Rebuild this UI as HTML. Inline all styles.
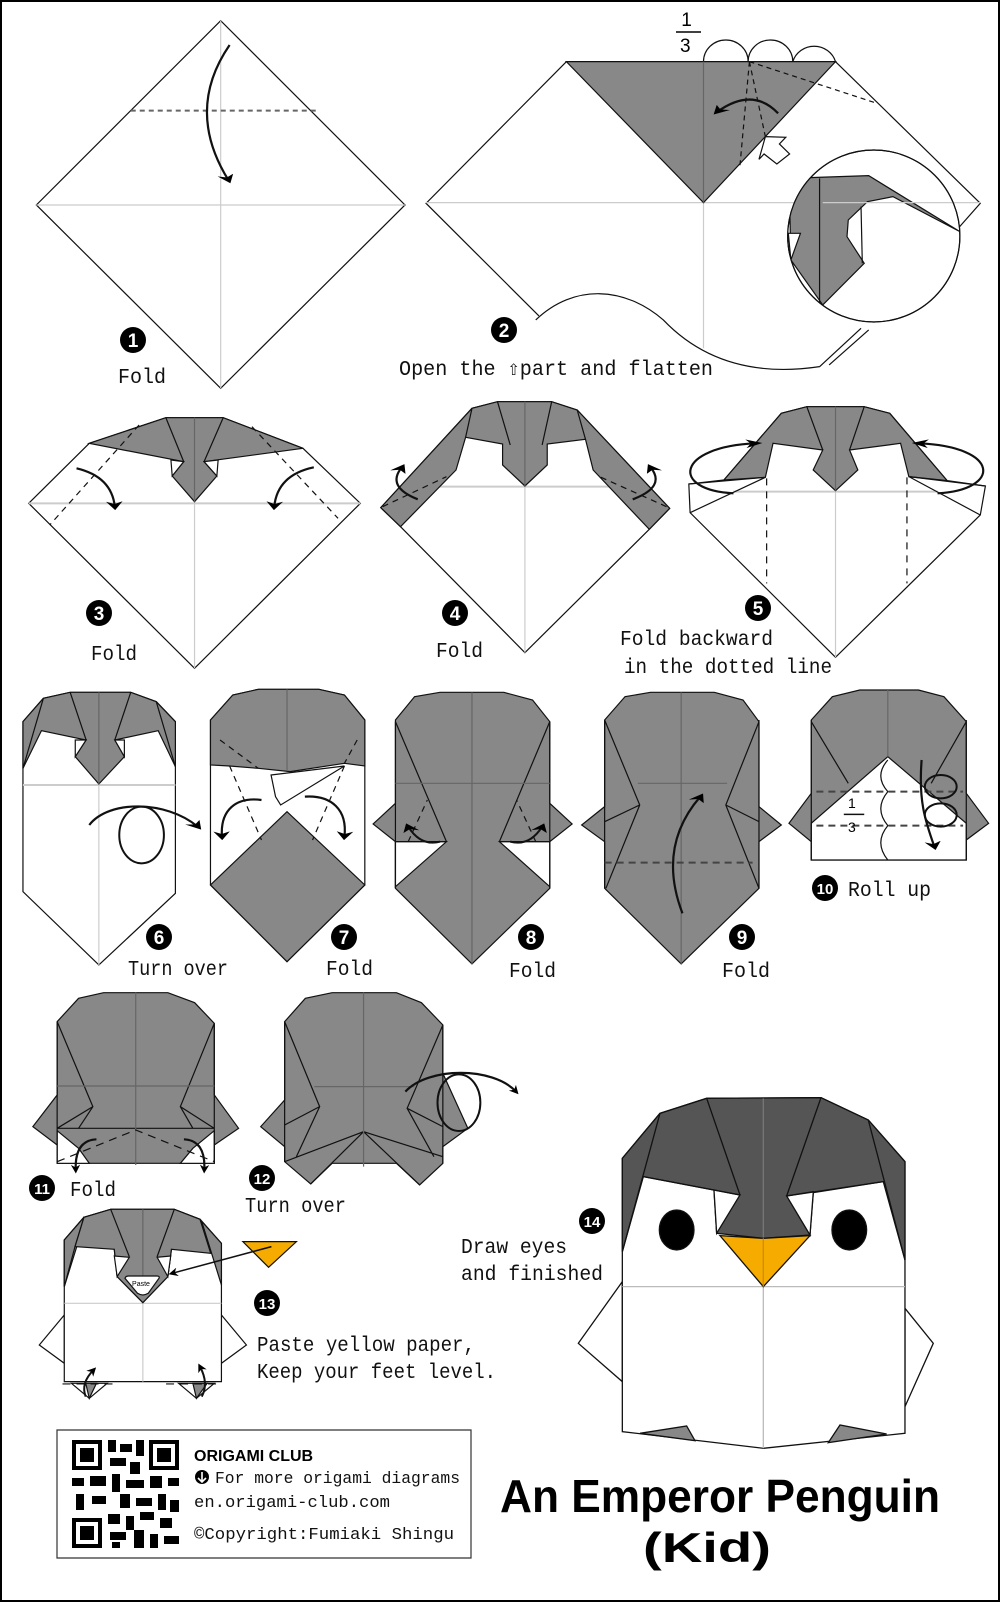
<!DOCTYPE html>
<html><head><meta charset="utf-8"><style>
html,body{margin:0;padding:0;background:#fff}
svg{display:block}
svg *{vector-effect:non-scaling-stroke}
.t{font-family:"Liberation Mono",monospace;font-size:21px;fill:#111}
.n{font-family:"Liberation Sans",sans-serif;font-weight:bold;fill:#fff;text-anchor:middle}
</style></head><body>
<svg width="1000" height="1602" viewBox="0 0 1000 1602" xmlns="http://www.w3.org/2000/svg">
<defs>
<marker id="a" viewBox="0 0 10 10" refX="6" refY="5" markerWidth="26" markerHeight="26" markerUnits="userSpaceOnUse" orient="auto"><path d="M0,0 L10,5 L0,10 L3,5 z" fill="#000"/></marker>
<clipPath id="cc"><ellipse cx="1370" cy="708" rx="135" ry="258"/></clipPath>
</defs>
<rect x="1" y="1" width="998" height="1600" fill="#fff" stroke="#000" stroke-width="2"/>

<!-- Steps 1-2 -->
<g transform="scale(0.6378,0.3333)" stroke="#111" stroke-width="1.2" fill="none">
<polygon points="346,62 57,615 346,1165 635,615" fill="#fff"/>
<line x1="57" y1="615" x2="635" y2="615" stroke="#ccc"/>
<line x1="346" y1="62" x2="346" y2="1165" stroke="#ccc"/>
<line x1="205" y1="332" x2="500" y2="332" stroke="#666" stroke-width="2" stroke-dasharray="5,4"/>
<path d="M360,135 Q290,330 358,540" stroke-width="2.2" marker-end="url(#a)"/>
<path d="M888,185 L668,610 L845,948" />
<path d="M1310,185 L1537,610 L1500,690"/>
<line x1="668" y1="608" x2="1537" y2="608" stroke="#ccc"/>
<line x1="1103" y1="608" x2="1103" y2="1045" stroke="#ccc"/>
<polygon points="888,185 1310,185 1103,608" fill="#888"/>
<line x1="1103" y1="185" x2="1103" y2="608" stroke="#666"/>
<path d="M1103,185 A35,65 0 0 1 1173,185 A35,65 0 0 1 1243,185 A35,65 0 0 1 1310,185"/>
<path d="M1175,185 L1160,500 M1175,185 L1200,410 M1175,185 L1375,310" stroke-dasharray="5,4"/>
<path d="M1220,340 Q1180,260 1125,335" stroke-width="2.2" marker-end="url(#a)"/>
<polygon points="1200,410 1232,412 1222,432 1238,462 1218,492 1198,462 1190,478" fill="#fff"/>
<path d="M840,960 C900,850 980,860 1040,960 C1100,1080 1180,1130 1285,1100 L1350,985 M1300,1095 L1362,990"/>
<ellipse cx="1370" cy="708" rx="135" ry="258" fill="#fff"/>
<g clip-path="url(#cc)">
<polygon points="1238,600 1270,533 1362,527 1505,695 1400,590 1360,605 1330,660 1328,710 1355,790 1290,915 1240,780" fill="#888"/>
<line x1="1285" y1="535" x2="1285" y2="915"/>
<line x1="1350" y1="620" x2="1352" y2="790"/>
<polygon points="1236,700 1255,700 1240,780" fill="#fff"/>
<line x1="1290" y1="608" x2="1537" y2="608" stroke="#ccc"/>
</g>
<ellipse cx="1370" cy="708" rx="135" ry="258"/>
</g>
<text x="676" y="26" style="font-family:'Liberation Sans',sans-serif;font-size:19px">&#160;1</text>
<line x1="676" y1="32" x2="701" y2="32" stroke="#000" stroke-width="1.5"/>
<text x="680" y="52" style="font-family:'Liberation Sans',sans-serif;font-size:19px">3</text>
<circle cx="133" cy="340" r="13"/><text class="n" x="133" y="347" font-size="19">1</text>
<text class="t" x="118" y="383" textLength="48" lengthAdjust="spacingAndGlyphs">Fold</text>
<circle cx="504" cy="330" r="13"/><text class="n" x="504" y="337" font-size="19">2</text>
<text class="t" x="399" y="375" textLength="314" lengthAdjust="spacingAndGlyphs">Open the ⇧part and flatten</text>

<!-- Steps 3-5 -->
<g transform="translate(0,380) scale(0.6378,0.3333)" stroke="#111" stroke-width="1.2" fill="none">
<polygon points="45,370 140,190 260,113 350,113 475,205 565,370 305,865" fill="#fff"/>
<line x1="45" y1="370" x2="565" y2="370" stroke="#ccc" stroke-width="2"/>
<line x1="305" y1="365" x2="305" y2="865" stroke="#ccc"/>
<polygon points="140,190 260,113 350,113 475,205 320,245 340,288 305,365 270,288 288,245" fill="#888"/>
<polygon points="268,240 288,245 270,288" fill="#fff"/><polygon points="342,240 320,245 340,288" fill="#fff"/>
<path d="M260,113 L288,245 M350,113 L320,245"/>
<line x1="305" y1="113" x2="305" y2="365" stroke="#666"/>
<path d="M218,135 L78,435 M395,140 L530,415" stroke-dasharray="6,5"/>
<path d="M120,265 Q175,290 180,380" stroke-width="2.2" marker-end="url(#a)"/>
<path d="M492,262 Q435,285 430,380" stroke-width="2.2" marker-end="url(#a)"/>

<polygon points="597,383 740,85 780,65 865,65 905,90 1050,385 1018,448 823,818 628,440" fill="#fff"/>
<line x1="628" y1="320" x2="1018" y2="320" stroke="#ccc" stroke-width="2"/>
<line x1="823" y1="318" x2="823" y2="818" stroke="#ccc"/>
<polygon points="597,383 740,85 780,65 865,65 905,90 1050,385 1018,448 930,270 918,178 858,192 858,255 823,318 788,255 788,192 730,172 715,270 628,440" fill="#888"/>
<path d="M780,65 L800,195 M865,65 L850,195 M730,172 L740,85 M918,178 L905,90"/>
<line x1="823" y1="65" x2="823" y2="318" stroke="#666"/>
<path d="M600,380 L700,290 M1045,380 L940,290" stroke-dasharray="6,5"/>
<path d="M655,358 Q605,320 630,262" stroke-width="2.2" marker-end="url(#a)"/>
<path d="M992,358 Q1045,320 1020,262" stroke-width="2.2" marker-end="url(#a)"/>

<polygon points="1082,398 1080,312 1135,300 1225,100 1265,80 1355,80 1395,100 1485,302 1545,318 1537,405 1310,832" fill="#fff"/>
<line x1="1150" y1="335" x2="1470" y2="335" stroke="#ccc" stroke-width="2"/>
<line x1="1310" y1="332" x2="1310" y2="832" stroke="#ccc"/>
<polygon points="1135,300 1225,100 1265,80 1355,80 1395,100 1485,302 1425,290 1412,190 1332,210 1345,270 1310,332 1275,270 1290,210 1212,190 1200,292" fill="#888"/>
<path d="M1265,80 L1290,210 M1355,80 L1332,210 M1080,312 L1200,292 L1082,398 M1545,318 L1425,290 L1537,405"/>
<line x1="1310" y1="80" x2="1310" y2="332" stroke="#666"/>
<path d="M1202,295 L1202,610 M1422,292 L1422,610" stroke-dasharray="7,6"/>
<path d="M1150,340 C1050,330 1060,200 1185,190" stroke-width="2.2" marker-end="url(#a)"/>
<path d="M1470,340 C1570,330 1570,200 1440,190" stroke-width="2.2" marker-end="url(#a)"/>
</g>
<circle cx="99" cy="613" r="13"/><text class="n" x="99" y="620" font-size="19">3</text>
<text class="t" x="91" y="660" textLength="46" lengthAdjust="spacingAndGlyphs">Fold</text>
<circle cx="455" cy="613" r="13"/><text class="n" x="455" y="620" font-size="19">4</text>
<text class="t" x="436" y="657" textLength="47" lengthAdjust="spacingAndGlyphs">Fold</text>
<circle cx="758" cy="608" r="13"/><text class="n" x="758" y="615" font-size="19">5</text>
<text class="t" x="620" y="645" textLength="153" lengthAdjust="spacingAndGlyphs">Fold backward</text>
<text class="t" x="624" y="673" textLength="208" lengthAdjust="spacingAndGlyphs">in the dotted line</text>

<!-- Steps 6-10 -->
<g transform="translate(0,660) scale(0.6378,0.3333)" stroke="#111" stroke-width="1.2" fill="none">
<polygon points="36,185 68,115 110,97 205,97 245,125 275,185 275,700 155,915 36,695" fill="#fff"/>
<line x1="36" y1="375" x2="275" y2="375" stroke="#ccc" stroke-width="2"/>
<line x1="155" y1="97" x2="155" y2="915" stroke="#ccc"/>
<polygon points="36,325 36,185 68,115 110,97 205,97 245,125 275,185 275,320 248,212 180,240 195,290 155,372 118,290 135,240 65,212" fill="#888"/>
<path d="M110,97 L135,240 M205,97 L180,240 M68,115 L36,325 M245,125 L275,320"/>
<polygon points="118,240 135,240 118,290" fill="#fff"/><polygon points="195,240 180,240 195,290" fill="#fff"/>
<line x1="155" y1="97" x2="155" y2="372" stroke="#666"/>
<path d="M140,495 C170,420 260,420 310,500" stroke-width="2.2" marker-end="url(#a)"/>
<ellipse cx="222" cy="525" rx="35" ry="85" stroke-width="2"/>

<polygon points="330,180 365,105 405,88 500,88 540,105 572,180 572,675 450,905 330,675" fill="#fff"/>
<polygon points="330,180 365,105 405,88 500,88 540,105 572,180 572,318 540,310 455,335 405,325 360,318 330,315" fill="#888"/>
<line x1="450" y1="88" x2="450" y2="330" stroke="#666"/>
<polygon points="330,675 450,455 572,675 450,905" fill="#888"/>
<polygon points="425,345 540,318 440,435 432,410" fill="#fff"/>
<path d="M360,318 L410,540 M540,318 L490,540 M345,240 L405,325 M560,240 L540,310" stroke-dasharray="6,5"/>
<path d="M410,420 C370,410 345,450 348,530" stroke-width="2.2" marker-end="url(#a)"/>
<path d="M478,410 C520,405 545,450 540,530" stroke-width="2.2" marker-end="url(#a)"/>

<polygon points="620,180 650,110 690,97 790,97 835,120 862,185 862,430 897,492 862,545 862,685 740,912 620,685 620,545 585,492 620,430" fill="#888"/>
<polygon points="620,545 700,545 620,680" fill="#fff"/><polygon points="783,545 862,545 862,680" fill="#fff"/>
<path d="M620,185 L700,545 M862,185 L783,545 M620,545 L700,545 M783,545 L862,545 M620,185 L620,685 M862,185 L862,685"/>
<line x1="620" y1="370" x2="862" y2="370" stroke="#666"/>
<line x1="740" y1="97" x2="740" y2="912" stroke="#666"/>
<path d="M640,545 L670,420 M840,545 L810,420" stroke-dasharray="6,5"/>
<path d="M690,545 Q660,560 640,500" stroke-width="2" marker-end="url(#a)"/>
<path d="M800,545 Q830,560 850,500" stroke-width="2" marker-end="url(#a)"/>

<polygon points="948,180 980,110 1020,97 1120,97 1165,120 1190,185 1190,440 1225,495 1190,545 1190,685 1068,912 948,685 948,545 912,495 948,440" fill="#888"/>
<path d="M948,180 L1003,435 L950,685 M1190,185 L1138,435 L1190,685 M948,485 L1003,435 M1190,485 L1138,435 M948,180 L948,685 M1190,180 L1190,685"/>
<line x1="1000" y1="370" x2="1140" y2="370" stroke="#666"/>
<line x1="1068" y1="97" x2="1068" y2="912" stroke="#666"/>
<path d="M948,608 L1180,608" stroke="#444" stroke-width="2" stroke-dasharray="7,5"/>
<path d="M1070,760 Q1030,560 1098,410" stroke-width="2.2" marker-end="url(#a)"/>

<polygon points="1272,180 1305,110 1348,90 1440,90 1480,110 1515,185 1515,400 1550,490 1515,540 1515,600 1272,600 1272,545 1237,490 1272,400" fill="#888"/>
<polygon points="1272,600 1272,490 1392,290 1515,490 1515,600" fill="#fff"/>
<path d="M1272,185 L1330,370 M1515,185 L1460,370 M1272,180 L1272,600 M1515,180 L1515,600"/>
<line x1="1392" y1="90" x2="1392" y2="290" stroke="#666"/>
<path d="M1280,395 L1510,395 M1280,497 L1510,497" stroke="#444" stroke-width="2" stroke-dasharray="7,5"/>
<path d="M1392,300 Q1370,348 1392,395 Q1370,446 1392,497 Q1370,548 1392,600"/>
<line x1="1323" y1="463" x2="1355" y2="463" stroke-width="1.5"/>
<ellipse cx="1475" cy="380" rx="25" ry="35" stroke-width="2"/>
<ellipse cx="1475" cy="465" rx="25" ry="35" stroke-width="2"/>
<path d="M1445,300 C1440,420 1450,480 1465,560" stroke-width="2.2" marker-end="url(#a)"/>
</g>
<text x="848" y="808" style="font-family:'Liberation Sans',sans-serif;font-size:14px">1</text>
<text x="848" y="832" style="font-family:'Liberation Sans',sans-serif;font-size:14px">3</text>
<circle cx="159" cy="937" r="13"/><text class="n" x="159" y="944" font-size="19">6</text>
<text class="t" x="128" y="975" textLength="100" lengthAdjust="spacingAndGlyphs">Turn over</text>
<circle cx="344" cy="937" r="13"/><text class="n" x="344" y="944" font-size="19">7</text>
<text class="t" x="326" y="975" textLength="47" lengthAdjust="spacingAndGlyphs">Fold</text>
<circle cx="531" cy="937" r="13"/><text class="n" x="531" y="944" font-size="19">8</text>
<text class="t" x="509" y="977" textLength="47" lengthAdjust="spacingAndGlyphs">Fold</text>
<circle cx="742" cy="937" r="13"/><text class="n" x="742" y="944" font-size="19">9</text>
<text class="t" x="722" y="977" textLength="48" lengthAdjust="spacingAndGlyphs">Fold</text>
<circle cx="825" cy="888" r="13"/><text class="n" x="825" y="894" font-size="15">10</text>
<text class="t" x="848" y="896" textLength="83" lengthAdjust="spacingAndGlyphs">Roll up</text>

<!-- Steps 11-13 -->
<g transform="translate(0,980) scale(0.35714,0.3333)" stroke="#111" stroke-width="1.2" fill="none">
<polygon points="160,125 220,55 290,38 470,38 545,68 600,130 600,345 668,445 600,495 600,550 160,550 160,495 92,440 160,345" fill="#888"/>
<polygon points="160,452 220,505 250,550 160,550" fill="#fff"/><polygon points="600,452 540,505 505,550 600,550" fill="#fff"/>
<path d="M160,125 L160,550 M600,130 L600,550 M160,445 L600,445 M160,125 L260,380 L160,445 M600,130 L505,380 L600,445 M220,445 L260,380 M540,445 L505,380"/>
<line x1="160" y1="318" x2="600" y2="318" stroke="#666"/>
<line x1="380" y1="38" x2="380" y2="555" stroke="#666"/>
<path d="M160,545 L380,450 L600,545" stroke-dasharray="8,6"/>
<path d="M270,478 C230,480 210,510 212,570" stroke-width="2.2" marker-end="url(#a)"/>
<path d="M515,478 C555,480 575,510 572,570" stroke-width="2.2" marker-end="url(#a)"/>

<polygon points="797,125 855,55 930,38 1110,38 1180,68 1240,135 1240,280 1310,445 1240,500 1240,550 1175,615 1110,550 930,550 870,612 797,545 797,500 730,440 797,360" fill="#888"/>
<path d="M797,125 L797,545 M1240,135 L1240,550 M797,125 L895,380 L797,435 M1240,135 L1140,385 L1240,440 M797,545 L1018,455 L1240,530 M870,612 L1018,455 L1175,615 M895,380 L830,530 M1140,385 L1215,530"/>
<line x1="880" y1="320" x2="1160" y2="320" stroke="#666"/>
<line x1="1018" y1="38" x2="1018" y2="560" stroke="#666"/>
<path d="M1135,335 C1200,260 1380,260 1445,335" stroke-width="2.2" marker-end="url(#a)"/>
<ellipse cx="1285" cy="368" rx="60" ry="85" stroke-width="2"/>

<polygon points="180,1005 110,1095 180,1150" fill="#fff"/><polygon points="620,1005 690,1095 620,1150" fill="#fff"/>
<polygon points="200,1210 250,1255 300,1210" fill="#fff"/><polygon points="500,1210 550,1255 600,1210" fill="#fff"/>
<polygon points="240,1210 250,1255 270,1210" fill="#888"/><polygon points="540,1210 550,1255 580,1210" fill="#888"/>
<polygon points="180,780 235,712 310,688 488,688 560,718 620,790 620,1205 180,1205" fill="#fff"/>
<line x1="180" y1="970" x2="620" y2="970" stroke="#ccc"/>
<line x1="400" y1="688" x2="400" y2="1205" stroke="#ccc"/>
<polygon points="180,920 180,780 235,712 310,688 488,688 560,718 620,790 620,915 565,725 480,808 470,890 400,968 328,890 320,808 235,712 215,800" fill="#888"/>
<polygon points="180,920 180,780 235,712 210,800" fill="#888"/>
<polygon points="210,800 235,712 310,688 488,688 560,718 590,820 480,808 470,890 400,968 328,890 320,808" fill="#888"/>
<polygon points="320,828 362,832 328,890" fill="#fff"/><polygon points="478,828 440,832 470,890" fill="#fff"/>
<path d="M310,688 L362,830 M488,688 L440,830"/>
<line x1="400" y1="688" x2="400" y2="890" stroke="#666"/>
<path d="M350,895 Q352,888 360,888 L440,888 Q448,888 445,895 L415,940 Q400,950 385,940 z" fill="#fff"/>
<path d="M175,1212 L330,1212 M465,1212 L620,1212" stroke-dasharray="8,6"/>
<path d="M240,1250 Q225,1210 262,1170" stroke-width="2" marker-end="url(#a)"/>
<path d="M565,1250 Q585,1210 560,1160" stroke-width="2" marker-end="url(#a)"/>
<polygon points="680,785 830,785 752,862" fill="#f5ab00"/>
<path d="M760,800 L482,880" stroke-width="1.5" marker-end="url(#a)"/>
</g>
<text x="141" y="1286" text-anchor="middle" style="font-family:'Liberation Sans',sans-serif;font-size:7px">Paste</text>
<circle cx="42" cy="1188" r="13"/><text class="n" x="42" y="1194" font-size="15">11</text>
<text class="t" x="70" y="1196" textLength="46" lengthAdjust="spacingAndGlyphs">Fold</text>
<circle cx="262" cy="1178" r="13"/><text class="n" x="262" y="1184" font-size="15">12</text>
<text class="t" x="245" y="1212" textLength="101" lengthAdjust="spacingAndGlyphs">Turn over</text>
<circle cx="267" cy="1303" r="13"/><text class="n" x="267" y="1309" font-size="15">13</text>
<text class="t" x="257" y="1351" textLength="218" lengthAdjust="spacingAndGlyphs">Paste yellow paper,</text>
<text class="t" x="257" y="1378" textLength="239" lengthAdjust="spacingAndGlyphs">Keep your feet level.</text>

<!-- Step 14 penguin -->
<g transform="translate(560,1070) scale(0.3333)" stroke="#111" stroke-width="1.3" fill="none">
<polygon points="187,635 55,820 187,935" fill="#fff"/>
<polygon points="1035,715 1120,820 1035,1010" fill="#fff"/>
<polygon points="187,265 300,130 440,85 783,83 925,150 1035,275 1035,1090 610,1135 187,1085" fill="#fff"/>
<polygon points="240,1090 380,1068 405,1112" fill="#888"/>
<polygon points="980,1092 840,1065 805,1118" fill="#888"/>
<line x1="187" y1="650" x2="1035" y2="650" stroke="#bbb"/>
<line x1="610" y1="85" x2="610" y2="1135" stroke="#bbb"/>
<polygon points="187,545 187,265 300,130 440,85 783,83 925,150 1035,275 1035,570 970,335 760,368 750,495 610,505 470,490 462,360 250,320" fill="#555"/>
<polygon points="462,360 540,375 470,490" fill="#fff"/><polygon points="760,365 680,378 750,495" fill="#fff"/>
<path d="M440,85 L540,375 M783,83 L680,378 M300,130 L187,545 M925,150 L1035,570 M250,320 L540,375 M970,335 L680,378"/>
<line x1="610" y1="85" x2="610" y2="505" stroke="#777"/>
<polygon points="480,497 610,505 750,497 610,650" fill="#f5ab00"/>
<line x1="610" y1="505" x2="610" y2="650" stroke="#d08c00"/>
<ellipse cx="350" cy="480" rx="52" ry="60" fill="#000"/>
<ellipse cx="868" cy="480" rx="52" ry="60" fill="#000"/>
</g>
<circle cx="592" cy="1221" r="13"/><text class="n" x="592" y="1227" font-size="15">14</text>
<text class="t" x="461" y="1253" textLength="106" lengthAdjust="spacingAndGlyphs">Draw eyes</text>
<text class="t" x="461" y="1280" textLength="142" lengthAdjust="spacingAndGlyphs">and finished</text>

<!-- Bottom box -->
<rect x="57" y="1430" width="414" height="128" fill="#fff" stroke="#333" stroke-width="1.2"/>
<g fill="#000">
<rect x="72" y="1440" width="30" height="30"/><rect x="76" y="1444" width="22" height="22" fill="#fff"/><rect x="80" y="1448" width="14" height="14"/>
<rect x="149" y="1440" width="30" height="30"/><rect x="153" y="1444" width="22" height="22" fill="#fff"/><rect x="157" y="1448" width="14" height="14"/>
<rect x="72" y="1518" width="30" height="30"/><rect x="76" y="1522" width="22" height="22" fill="#fff"/><rect x="80" y="1526" width="14" height="14"/>
<rect x="108" y="1440" width="8" height="12"/><rect x="120" y="1444" width="12" height="8"/><rect x="136" y="1440" width="8" height="16"/>
<rect x="110" y="1458" width="16" height="8"/><rect x="130" y="1462" width="10" height="12"/>
<rect x="72" y="1478" width="12" height="8"/><rect x="90" y="1476" width="16" height="10"/><rect x="112" y="1474" width="8" height="18"/>
<rect x="126" y="1480" width="18" height="8"/><rect x="150" y="1476" width="12" height="12"/><rect x="168" y="1478" width="11" height="8"/>
<rect x="76" y="1494" width="8" height="16"/><rect x="92" y="1496" width="14" height="8"/><rect x="120" y="1494" width="10" height="14"/>
<rect x="136" y="1498" width="16" height="8"/><rect x="158" y="1494" width="8" height="16"/><rect x="170" y="1500" width="9" height="12"/>
<rect x="108" y="1514" width="12" height="10"/><rect x="126" y="1516" width="8" height="14"/><rect x="140" y="1512" width="14" height="8"/>
<rect x="160" y="1518" width="12" height="10"/><rect x="110" y="1532" width="16" height="8"/><rect x="134" y="1530" width="10" height="18"/>
<rect x="150" y="1534" width="8" height="14"/><rect x="164" y="1536" width="15" height="8"/><rect x="112" y="1542" width="8" height="6"/>
</g>
<text x="194" y="1461" style="font-family:'Liberation Sans',sans-serif;font-weight:bold;font-size:16px">ORIGAMI CLUB</text>
<circle cx="202" cy="1477" r="7"/><path d="M202,1472 L202,1481 M198,1478 L202,1482 L206,1478" stroke="#fff" stroke-width="1.6" fill="none"/>
<text class="t" x="215" y="1483" style="font-size:17px" textLength="245" lengthAdjust="spacingAndGlyphs">For more origami diagrams</text>
<text class="t" x="194" y="1507" style="font-size:17px" textLength="196" lengthAdjust="spacingAndGlyphs">en.origami-club.com</text>
<text class="t" x="194" y="1539" style="font-size:17px" textLength="260" lengthAdjust="spacingAndGlyphs">©Copyright:Fumiaki Shingu</text>

<text x="500" y="1512" style="font-family:'Liberation Sans',sans-serif;font-weight:bold;font-size:46px" textLength="440" lengthAdjust="spacingAndGlyphs">An Emperor Penguin</text>
<text x="643" y="1562" style="font-family:'Liberation Sans',sans-serif;font-weight:bold;font-size:42px" textLength="128" lengthAdjust="spacingAndGlyphs">(Kid)</text>
</svg>
</body></html>
